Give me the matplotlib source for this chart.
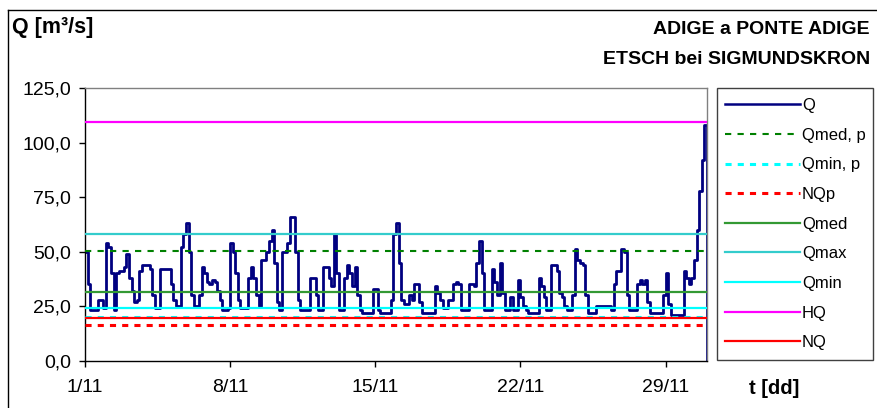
import numpy as np
import matplotlib
matplotlib.use("Agg")
import matplotlib.pyplot as plt
from matplotlib.lines import Line2D
from matplotlib.patches import Rectangle

plt.rcParams['font.family'] = ['Liberation Sans', 'DejaVu Sans']

# Discharge Q [m3/s], 3-hourly values from 1/11 00:00 to 1/12 00:00
q_values = [
    50, 35, 23, 23, 23, 28, 28, 24,
    54, 52, 40, 23, 40, 41, 41, 43,
    49, 38, 32, 27, 28, 41, 44, 44,
    44, 42, 30, 24, 24, 42, 42, 42,
    42, 35, 28, 25, 25, 52, 58, 63,
    50, 30, 25, 25, 30, 43, 40, 36,
    35, 37, 36, 32, 28, 23, 23, 24,
    54, 50, 40, 28, 24, 24, 24, 38,
    43, 38, 30, 25, 46, 46, 50, 55,
    60, 45, 27, 23, 50, 50, 54, 66,
    66, 50, 28, 23, 23, 23, 23, 38,
    38, 30, 23, 23, 43, 43, 38, 34,
    58, 40, 23, 23, 38, 44, 40, 34,
    43, 30, 23, 22, 22, 22, 22, 33,
    33, 23, 22, 22, 22, 22, 28, 58,
    63, 45, 28, 26, 26, 30, 28, 35,
    35, 27, 22, 22, 22, 22, 22, 34,
    31, 28, 24, 24, 28, 28, 35, 36,
    35, 23, 23, 23, 35, 35, 34, 45,
    55, 40, 23, 23, 23, 42, 36, 30,
    45, 31, 23, 23, 29, 23, 23, 37,
    29, 25, 23, 22, 22, 22, 22, 38,
    34, 29, 23, 23, 44, 44, 41, 31,
    29, 25, 23, 23, 30, 51, 46, 45,
    44, 30, 22, 22, 22, 25, 25, 25,
    25, 25, 25, 23, 35, 41, 41, 51,
    50, 30, 23, 23, 23, 35, 37, 35,
    37, 27, 22, 22, 22, 22, 22, 30,
    40, 26, 21, 21, 21, 21, 21, 41,
    38, 35, 38, 46, 60, 78, 92, 108,
    0,
]
step_days = 0.125

# Reference discharges
q_med_p = 50.4
q_min_p = 20.1
nq_p = 16.3
q_med = 31.6
q_max = 58.1
q_min = 24.2
hq = 109.5
nq = 19.6

x_tick_days = [0, 7, 14, 21, 28]
x_tick_labels = ["1/11", "8/11", "15/11", "22/11", "29/11"]
y_ticks = [0, 25, 50, 75, 100, 125]
y_tick_labels = ["0,0", "25,0", "50,0", "75,0", "100,0", "125,0"]

W, H = 878, 408
fig = plt.figure(figsize=(W / 100, H / 100), dpi=100)
ax = fig.add_axes([85 / W, 1 - 360.5 / H, (707 - 85) / W, (360.5 - 88.3) / H])

t = np.arange(len(q_values)) * step_days
ax.plot(t, q_values, color='#000080', lw=2.0, zorder=2, drawstyle='steps-post')

ref_styles = [
    (q_med_p, dict(color='#008000', ls=(0, (3, 3)), lw=1.5)),
    (q_min_p, dict(color='#00FFFF', ls=(0, (2, 2)), lw=2.2)),
    (nq_p, dict(color='#FF0000', ls=(0, (2, 2)), lw=2.2)),
    (q_med, dict(color='#339933', ls='-', lw=1.6)),
    (q_max, dict(color='#33CCCC', ls='-', lw=1.6)),
    (q_min, dict(color='#00FFFF', ls='-', lw=1.6)),
    (hq, dict(color='#FF00FF', ls='-', lw=1.6)),
    (nq, dict(color='#FF0000', ls='-', lw=1.6)),
]
for val, st in ref_styles:
    ax.axhline(val, zorder=3, **st)

ax.set_xlim(0, 30)
ax.set_ylim(0, 125)
ax.set_xticks(x_tick_days)
ax.set_xticklabels(x_tick_labels)
ax.set_yticks(y_ticks)
ax.set_yticklabels(y_tick_labels)
ax.tick_params(axis='both', labelsize=14, length=4, width=1, direction='out', color='black')
ax.tick_params(axis='x', pad=9)
ax.tick_params(axis='y', pad=6)
for s in ['top', 'right']:
    ax.spines[s].set_color('#808080')
for s in ['left', 'bottom']:
    ax.spines[s].set_color('black')
for s in ax.spines.values():
    s.set_linewidth(1.0)

handles = [Line2D([], [], color='#000080', lw=1.8)]
labels = ["Q", "Qmed, p", "Qmin, p", "NQp", "Qmed", "Qmax", "Qmin", "HQ", "NQ"]
for val, st in ref_styles:
    handles.append(Line2D([], [], **st))
leg = ax.legend(handles, labels, loc='upper left', bbox_to_anchor=(725 / W, 1 - 98 / H),
                bbox_transform=fig.transFigure, frameon=False, fontsize=12,
                handlelength=4.5, handletextpad=0.12, labelspacing=0.88,
                borderpad=0, borderaxespad=0)

fig.add_artist(Rectangle((717 / W, 1 - 360 / H), (873 - 717) / W, (360 - 88) / H,
                         transform=fig.transFigure, fill=False, edgecolor='#404040', lw=1.0))

fig.text(12 / W, 1 - 28 / H, "Q [m³/s]", fontsize=15.5, fontweight='bold', va='center', ha='left')
fig.text(870 / W, 1 - 29 / H, "ADIGE a PONTE ADIGE", fontsize=14, fontweight='bold', va='center', ha='right')
fig.text(870 / W, 1 - 60 / H, "ETSCH bei SIGMUNDSKRON", fontsize=14, fontweight='bold', va='center', ha='right')
fig.text(749 / W, 1 - 388 / H, "t [dd]", fontsize=14.5, fontweight='bold', va='center', ha='left')

fig.add_artist(Line2D([8 / W, 1.0], [1 - 10 / H, 1 - 10 / H], color='black', lw=1.0, transform=fig.transFigure))
fig.add_artist(Line2D([8 / W, 8 / W], [1 - 10 / H, 0.0], color='black', lw=1.0, transform=fig.transFigure))

fig.savefig("out.png", dpi=100)
